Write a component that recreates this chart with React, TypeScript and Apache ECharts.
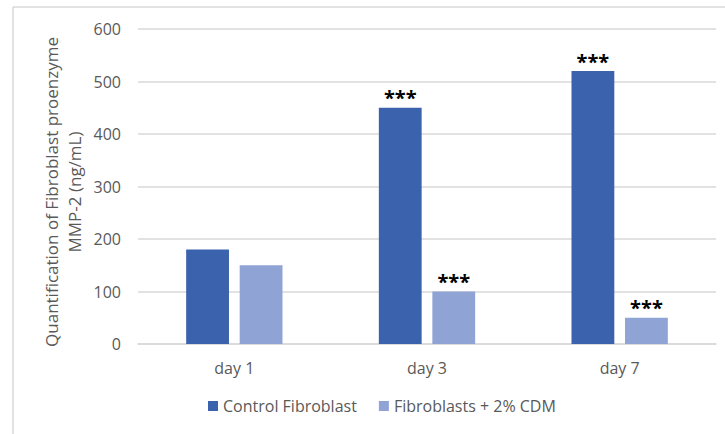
import React, { useEffect, useRef } from "react";
import * as echarts from "echarts";

const categories = ["day 1", "day 3", "day 7"];
const controlValues = [180, 450, 520];
const cdmValues = [150, 100, 50];
const controlSig = ["", "***", "***"];
const cdmSig = ["", "***", "***"];
const seriesNames = ["Control Fibroblast", "Fibroblasts + 2% CDM"];
const yTicks = { min: 0, max: 600, interval: 100 };
const yTitle = ["Quantification of Fibroblast proenzyme", "MMP-2 (ng/mL)"];

const FONT = "'Open Sans', 'Noto Sans', sans-serif";
const GRAY = "#595959";

export default function App() {
  const ref = useRef<HTMLDivElement>(null);
  useEffect(() => {
    if (!ref.current) return;
    const chart = echarts.init(ref.current, undefined, { renderer: "svg" });
    const mkLabel = (sig: string[]) => ({
      show: true,
      position: "top" as const,
      distance: 0,
      formatter: (p: any) => sig[p.dataIndex],
      color: "#000",
      fontSize: 20,
      fontWeight: "bold" as const,
      fontFamily: FONT,
    });
    chart.setOption({
      animation: false,
      backgroundColor: "#fff",
      textStyle: { fontFamily: FONT },
      grid: { left: 138, right: 9, top: 29, bottom: 90, containLabel: false },
      legend: {
        bottom: 15,
        left: 203,
        itemWidth: 10,
        itemHeight: 10,
        itemGap: 22,
        icon: "rect",
        textStyle: { color: GRAY, fontSize: 16, fontFamily: FONT },
        data: seriesNames,
      },
      xAxis: {
        type: "category",
        data: categories,
        axisLine: { lineStyle: { color: "#d9d9d9", width: 1.5 } },
        axisTick: { show: false },
        axisLabel: { color: GRAY, fontSize: 16, margin: 16, fontFamily: FONT },
      },
      yAxis: {
        type: "value",
        min: yTicks.min,
        max: yTicks.max,
        interval: yTicks.interval,
        axisLine: { show: false },
        axisTick: { show: false },
        axisLabel: { color: GRAY, fontSize: 16, margin: 17, fontFamily: FONT },
        splitLine: { lineStyle: { color: "#d9d9d9", width: 1.5 } },
      },
      series: [
        {
          name: seriesNames[0],
          type: "bar",
          data: controlValues,
          barGap: "25%",
          barCategoryGap: "50%",
          itemStyle: { color: "#3B62AD" },
          label: mkLabel(controlSig),
        },
        {
          name: seriesNames[1],
          type: "bar",
          data: cdmValues,
          itemStyle: { color: "#8FA3D5" },
          label: mkLabel(cdmSig),
        },
      ],
      graphic: [
        {
          type: "line",
          shape: { x1: 13, y1: 7, x2: 725, y2: 7 },
          style: { stroke: "#d9d9d9", lineWidth: 1.5 },
        },
        {
          type: "line",
          shape: { x1: 13, y1: 7, x2: 13, y2: 434 },
          style: { stroke: "#d9d9d9", lineWidth: 1.5 },
        },
        {
          type: "text",
          x: 63,
          y: 192,
          rotation: Math.PI / 2,
          style: {
            text: yTitle.join("\n"),
            fill: GRAY,
            fontSize: 17,
            fontFamily: FONT,
            lineHeight: 23,
            align: "center",
            verticalAlign: "middle",
          },
        },
      ],
    });
    return () => chart.dispose();
  }, []);
  return (
    <div
      ref={ref}
      style={{ position: "fixed", left: 0, top: 0, width: 725, height: 434 }}
    />
  );
}
